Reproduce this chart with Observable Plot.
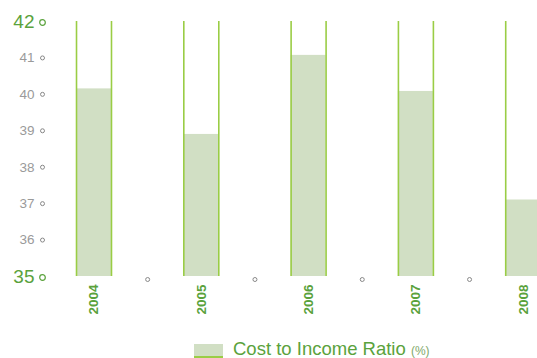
<!DOCTYPE html>
<html>
<head>
<meta charset="utf-8">
<script src="https://cdn.jsdelivr.net/npm/d3@7"></script>
<script src="https://cdn.jsdelivr.net/npm/@observablehq/plot@0.6"></script>
<style>
  html, body { margin: 0; padding: 0; background: #fff; overflow: hidden; }
  #chart { width: 537px; }
  .legend { position: relative; height: 26px; font-family: "Liberation Sans", Arial, sans-serif; }
  .legend .sw { position: absolute; left: 194px; top: 12px; width: 29px; height: 12px; background: #d1dfc4; border-bottom: 2px solid #9acd45; }
  .legend .lbl { position: absolute; left: 233px; top: 6px; font-size: 18.5px; color: #5aa23c; white-space: nowrap; }
  .legend .lbl small { font-size: 12px; color: #7fa86a; }
</style>
</head>
<body>
<div id="chart"></div>
<div class="legend"><span class="sw"></span><span class="lbl">Cost to Income Ratio <small>(%)</small></span></div>
<script>
const years = [2004, 2005, 2006, 2007, 2008];
const ratios = [40.15, 38.9, 41.07, 40.08, 37.1];
const gaps = [2004.5, 2005.5, 2006.5, 2007.5];
const minorTicks = [36, 37, 38, 39, 40, 41];
const majorTicks = [35, 42];

const data = years.map((y, i) => ({year: y, value: ratios[i]}));
const half = 0.163;
const lineColor = "#9acd45";
const green = "#5aa23c";

const plot = Plot.plot({
  width: 537,
  height: 332,
  marginLeft: 0,
  marginRight: 0,
  marginTop: 21,
  marginBottom: 56,
  style: {fontFamily: "Liberation Sans, Arial, sans-serif", background: "transparent"},
  x: {type: "linear", domain: [2004, 2008], range: [93.5, 522.7], axis: null},
  y: {domain: [35, 42], range: [276, 21], axis: null},
  marks: [
    Plot.rectY(data, {x1: d => d.year - half, x2: d => d.year + half, y1: 35, y2: "value", fill: "#d1dfc4", inset: 0}),
    Plot.ruleX(data, {x: d => d.year - half, y1: 35, y2: 42, stroke: lineColor, strokeWidth: 1.6}),
    Plot.ruleX(data, {x: d => d.year + half, y1: 35, y2: 42, stroke: lineColor, strokeWidth: 1.6}),
    Plot.dot(gaps, {x: d => d, y: 35, dy: 3, r: 2, stroke: "#888", strokeWidth: 1, fill: "white"}),
    Plot.text(minorTicks, {y: d => d, frameAnchor: "left", dx: 34, textAnchor: "end", text: d => String(d), fill: "#9a9a9a", fontSize: 13.5}),
    Plot.dot(minorTicks, {y: d => d, frameAnchor: "left", dx: 42, r: 2, stroke: "#888", strokeWidth: 1, fill: "white"}),
    Plot.text(majorTicks, {y: d => d, frameAnchor: "left", dx: 34, textAnchor: "end", text: d => String(d), fill: green, fontSize: 19}),
    Plot.dot(majorTicks, {y: d => d, frameAnchor: "left", dx: 42, dy: 1, r: 2.8, stroke: green, strokeWidth: 1.2, fill: "white"}),
    Plot.text(data, {x: "year", y: 35, dy: 8, rotate: -90, textAnchor: "end", text: d => String(d.year), fill: green, fontSize: 13.5, fontWeight: "bold"})
  ]
});
document.getElementById("chart").appendChild(plot);
</script>
</body>
</html>
